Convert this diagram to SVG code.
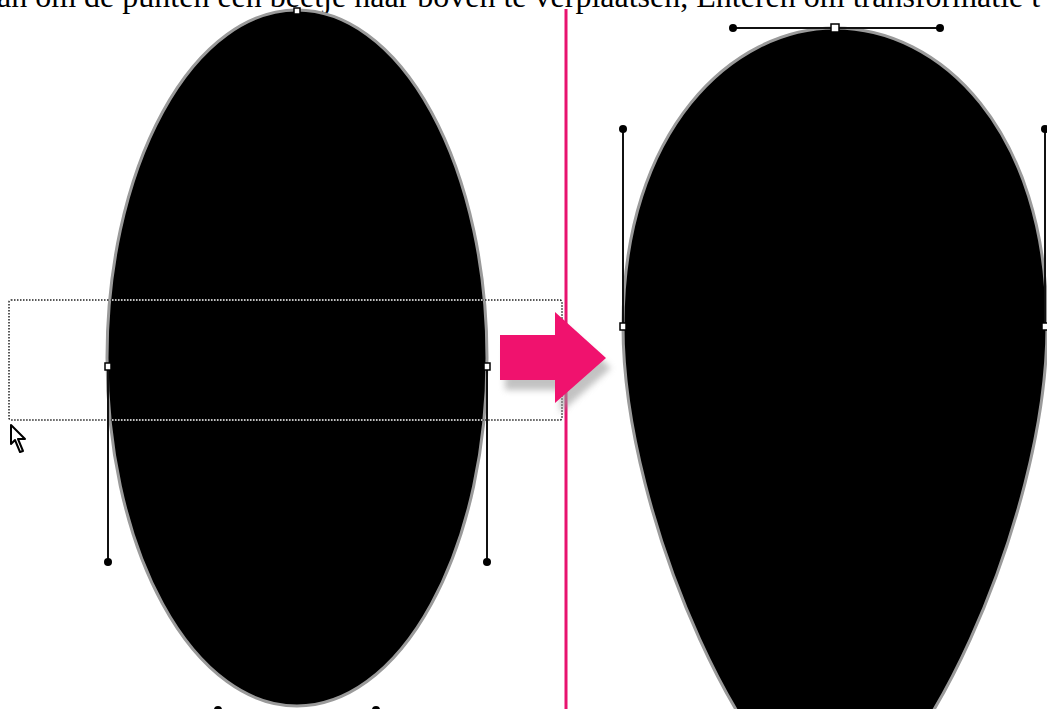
<svg xmlns="http://www.w3.org/2000/svg" width="1047" height="709" viewBox="0 0 1047 709">
<style>
.cap{font-family:"Liberation Serif","Times New Roman",serif;font-size:32px;fill:#000}
.shape{fill:#000;stroke:#9a9a9a;stroke-width:3}
.handle{stroke:#111;stroke-width:2;fill:none}
.dot{fill:#000}
.anchor{fill:#fff;stroke:#000;stroke-width:1.5}
</style>
<defs>
<clipPath id="ellClip"><ellipse cx="297" cy="358" rx="190" ry="348"/></clipPath>
<filter id="blur" x="-20%" y="-20%" width="140%" height="140%"><feGaussianBlur stdDeviation="3"/></filter>
</defs>
<rect width="1047" height="709" fill="#fff"/>
<text class="cap" x="-3" y="7">an om de punten een beetje naar boven te verplaatsen, Enteren om transformatie t</text>

<g id="left-ellipse">
<ellipse class="shape" cx="297" cy="358" rx="190" ry="348"/>
<rect class="anchor" x="294" y="8" width="6" height="6"/>
</g>

<g id="selection">
<rect x="9" y="300" width="553" height="120" rx="2" fill="none" stroke="#222" stroke-width="1.5" stroke-dasharray="1.5 1.5"/>
<g clip-path="url(#ellClip)">
<line x1="100" y1="300" x2="500" y2="300" stroke="#fff" stroke-width="1.5" stroke-dasharray="1.5 1.5"/>
<line x1="100" y1="420" x2="500" y2="420" stroke="#fff" stroke-width="1.5" stroke-dasharray="1.5 1.5"/>
</g>
</g>

<g id="left-handles">
<line class="handle" x1="108" y1="366" x2="108" y2="562"/>
<circle class="dot" cx="108" cy="562" r="4"/>
<rect class="anchor" x="105" y="363" width="6" height="7"/>
<line class="handle" x1="487" y1="366" x2="487" y2="562"/>
<circle class="dot" cx="487" cy="562" r="4"/>
<rect class="anchor" x="484" y="363" width="6" height="7"/>
<circle class="dot" cx="218" cy="710" r="4"/>
<circle class="dot" cx="376" cy="710" r="4"/>
</g>

<g id="cursor">
<polygon points="11,425 11,444 15,440 20,452 23,451 18,439 25,439" fill="#fff" stroke="#000" stroke-width="2" stroke-linejoin="round"/>
</g>

<g id="divider">
<line x1="566" y1="9" x2="566" y2="709" stroke="#e8136f" stroke-width="3"/>
</g>

<g id="arrow">
<polygon points="505,345 560,345 560,322 611,368 560,413 560,390 505,390" fill="#9a9a9a" opacity="0.6" filter="url(#blur)"/>
<polygon points="500,335 555,335 555,312 606,358 555,403 555,380 500,380" fill="#f0126e"/>
</g>

<g id="right-shape">
<path class="shape" d="M623,326 C623,129 733,28 835,28 C940,28 1047,129 1047,326 C1047,523 913,805 835,805 C757,805 623,523 623,326 Z"/>
<line class="handle" x1="733" y1="28" x2="940" y2="28"/>
<circle class="dot" cx="733" cy="28" r="4"/>
<circle class="dot" cx="940" cy="28" r="4"/>
<rect class="anchor" x="831" y="24" width="8" height="8"/>
<line class="handle" x1="623" y1="129" x2="623" y2="326"/>
<circle class="dot" cx="623" cy="129" r="4"/>
<rect class="anchor" x="620" y="323" width="6" height="7"/>
<line class="handle" x1="1045" y1="129" x2="1045" y2="326"/>
<circle class="dot" cx="1045" cy="129" r="4"/>
<rect class="anchor" x="1042" y="323" width="6" height="7"/>
</g>
</svg>
